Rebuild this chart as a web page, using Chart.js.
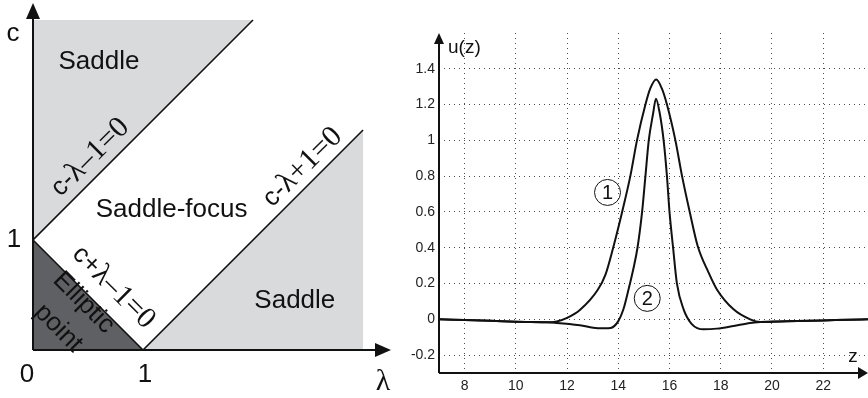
<!DOCTYPE html>
<html>
<head>
<meta charset="utf-8">
<script src="https://cdn.jsdelivr.net/npm/chart.js@4.4.1/dist/chart.umd.min.js"></script>
<style>
  body { margin: 0; background: #fff; }
  #left { position: absolute; left: 0; top: 0; }
  #right { position: absolute; left: 400px; top: 0; }
</style>
</head>
<body>
<canvas id="left" width="400" height="398"></canvas>
<canvas id="right" width="468" height="398"></canvas>
<script>
const SANS = 'Liberation Sans, Arial, sans-serif';
const SERIF = 'Liberation Serif, Times New Roman, serif';

// left panel: regions in the (lambda, c) plane
const upperSaddleL = [0, 0, 2, 0];
const upperSaddleC = [1, 3, 3, 1];
const lowerSaddleL = [1, 3, 3, 1];
const lowerSaddleC = [0, 0, 2, 0];
const ellipticL = [0, 0, 1, 0];
const ellipticC = [0, 1, 0, 0];
const line1L = [0, 2], line1C = [1, 3];   // c-λ-1=0
const line2L = [0, 1], line2C = [1, 0];   // c+λ-1=0
const line3L = [1, 3], line3C = [0, 2];   // c-λ+1=0

// right panel: u(z)
const z1 = [7, 8, 9, 10, 10.6, 11.2, 11.6, 12, 12.5, 13.2, 13.5, 13.8, 14.15, 14.47, 14.73, 15.06, 15.25, 15.48,
  15.7, 15.9, 16.23, 16.49, 16.79, 17.1, 17.53, 17.85, 18.5, 19.15, 19.55, 20.3, 21, 22, 23, 23.75];
const u1 = [0, -0.004, -0.008, -0.013, -0.015, -0.017, -0.012, 0.008, 0.052, 0.165, 0.25, 0.4, 0.6, 0.8, 1.0, 1.2, 1.29, 1.34,
  1.29, 1.2, 1.0, 0.8, 0.6, 0.41, 0.26, 0.167, 0.056, 0.0, -0.015, -0.012, -0.009, -0.006, -0.002, 0];
const z2 = [7, 8, 9, 10, 10.6, 11.2, 11.6, 12.5, 13.2, 13.7, 14.0, 14.2, 14.4, 14.6, 14.75, 14.93, 15.06, 15.19, 15.36, 15.47,
  15.62, 15.77, 15.9, 16.0, 16.14, 16.29, 16.55, 16.88, 17.33, 17.85, 18.5, 19.15, 19.55, 20.3, 21, 22, 23, 23.75];
const u2 = [0, -0.004, -0.008, -0.013, -0.015, -0.017, -0.02, -0.033, -0.05, -0.048, -0.01, 0.056, 0.167, 0.29, 0.4, 0.6, 0.8, 1.0, 1.15, 1.233,
  1.15, 1.0, 0.8, 0.6, 0.4, 0.2, 0.056, -0.028, -0.056, -0.052, -0.037, -0.02, -0.015, -0.012, -0.009, -0.006, -0.002, 0];
const zTicks = [8, 10, 12, 14, 16, 18, 20, 22];
const uTicks = [-0.2, 0, 0.2, 0.4, 0.6, 0.8, 1, 1.2, 1.4];
const curveTags = ['1', '2'];
const tagZ = [13.58, 15.13];
const tagU = [0.709, 0.117];

const pts = (xs, ys) => xs.map((x, i) => ({ x: x, y: ys[i] }));

function drawRich(ctx, segs, x, y, angle) {
  ctx.save();
  ctx.translate(x, y);
  ctx.rotate(angle);
  let total = 0;
  segs.forEach(s => { ctx.font = s[1]; total += ctx.measureText(s[0]).width; });
  let cx = -total / 2;
  ctx.textAlign = 'left';
  ctx.textBaseline = 'middle';
  ctx.fillStyle = '#111';
  segs.forEach(s => {
    ctx.font = s[1];
    ctx.fillText(s[0], cx, 0);
    cx += ctx.measureText(s[0]).width;
  });
  ctx.restore();
}

function arrowHead(ctx, x, y, dir, len, half) {
  ctx.beginPath();
  if (dir === 'up') {
    ctx.moveTo(x, y); ctx.lineTo(x - half, y + len); ctx.lineTo(x + half, y + len);
  } else {
    ctx.moveTo(x, y); ctx.lineTo(x - len, y - half); ctx.lineTo(x - len, y + half);
  }
  ctx.closePath();
  ctx.fill();
}

const leftDecor = {
  id: 'leftDecor',
  afterDraw(chart) {
    const ctx = chart.ctx;
    const sx = chart.scales.x, sy = chart.scales.y;
    const X = v => sx.getPixelForValue(v), Y = v => sy.getPixelForValue(v);
    const x0 = X(0), y0 = Y(0);
    ctx.save();
    ctx.strokeStyle = '#111';
    ctx.fillStyle = '#111';
    ctx.lineWidth = 2;
    ctx.beginPath();
    ctx.moveTo(x0, y0); ctx.lineTo(x0, 16);
    ctx.moveTo(x0, y0); ctx.lineTo(378, y0);
    ctx.stroke();
    arrowHead(ctx, x0, 3, 'up', 16, 7);
    arrowHead(ctx, 391, y0, 'right', 16, 7);

    const S26 = '26px ' + SANS, E = '30px ' + SERIF;
    ctx.textAlign = 'center';
    ctx.textBaseline = 'middle';
    ctx.font = S26;
    ctx.fillText('Saddle', X(0.6), Y(2.62));
    ctx.fillText('Saddle-focus', X(1.26), Y(1.27));
    ctx.fillText('Saddle', X(2.38), Y(0.45));
    ctx.fillText('c', 13, 34);
    ctx.fillText('1', 14, Y(1));
    ctx.fillText('0', 27, 375);
    ctx.fillText('1', X(1) + 2, 375);
    ctx.font = '30px ' + SERIF;
    ctx.fillText('λ', 383, 382);

    const up = -Math.PI / 4, down = Math.PI / 4;
    drawRich(ctx, [['c-', S26], ['λ', E], ['–1=0', E]], X(0.52), Y(1.75), up);
    drawRich(ctx, [['c-', S26], ['λ', E], ['+1=0', E]], X(2.45), Y(1.66), up);
    drawRich(ctx, [['c+', S26], ['λ', E], ['–1=0', E]], X(0.73), Y(0.57), down);
    drawRich(ctx, [['Elliptic', S26]], X(0.46), Y(0.43), down);
    drawRich(ctx, [['point', S26]], X(0.23), Y(0.2), down);
    ctx.restore();
  }
};

new Chart(document.getElementById('left'), {
  type: 'scatter',
  data: {
    datasets: [
      { data: pts(line1L, line1C), showLine: true, borderColor: '#111', borderWidth: 1.6, pointRadius: 0 },
      { data: pts(line2L, line2C), showLine: true, borderColor: '#111', borderWidth: 1.6, pointRadius: 0 },
      { data: pts(line3L, line3C), showLine: true, borderColor: '#111', borderWidth: 1.6, pointRadius: 0 },
      { data: pts(upperSaddleL, upperSaddleC), showLine: true, fill: 'shape', backgroundColor: '#d9dadc', borderWidth: 0, pointRadius: 0 },
      { data: pts(lowerSaddleL, lowerSaddleC), showLine: true, fill: 'shape', backgroundColor: '#d9dadc', borderWidth: 0, pointRadius: 0 },
      { data: pts(ellipticL, ellipticC), showLine: true, fill: 'shape', backgroundColor: '#5f6064', borderWidth: 0, pointRadius: 0 }
    ]
  },
  options: {
    responsive: false,
    animation: false,
    layout: { padding: { left: 33, right: 10, top: 5, bottom: 48 } },
    plugins: { legend: { display: false }, tooltip: { enabled: false } },
    scales: {
      x: { type: 'linear', min: 0, max: 3.245, display: false },
      y: { type: 'linear', min: 0, max: 3.136, display: false }
    }
  },
  plugins: [leftDecor]
});

const rightDecor = {
  id: 'rightDecor',
  afterDraw(chart) {
    const ctx = chart.ctx;
    const a = chart.chartArea;
    const sx = chart.scales.x, sy = chart.scales.y;
    ctx.save();
    ctx.strokeStyle = '#111';
    ctx.fillStyle = '#111';
    ctx.lineWidth = 2;
    ctx.beginPath();
    ctx.moveTo(a.left, a.bottom); ctx.lineTo(a.left, a.top + 8);
    ctx.moveTo(a.left, a.bottom); ctx.lineTo(a.right - 8, a.bottom);
    ctx.stroke();
    arrowHead(ctx, a.left, a.top, 'up', 11, 5);
    arrowHead(ctx, a.right, a.bottom, 'right', 10, 6);

    ctx.textBaseline = 'middle';
    ctx.textAlign = 'left';
    ctx.font = '19px ' + SANS;
    ctx.fillText('u(z)', a.left + 9, 48);
    ctx.textAlign = 'center';
    ctx.fillText('z', 453, 357);

    ctx.lineWidth = 1;
    ctx.font = '20px ' + SANS;
    curveTags.forEach((t, i) => {
      const x = sx.getPixelForValue(tagZ[i]), y = sy.getPixelForValue(tagU[i]);
      ctx.beginPath();
      ctx.arc(x, y, 13, 0, Math.PI * 2);
      ctx.stroke();
      ctx.fillText(t, x, y + 1);
    });
    ctx.restore();
  }
};

const gridStyle = { color: 'rgba(0,0,0,0.7)', lineWidth: 1, drawTicks: false };
new Chart(document.getElementById('right'), {
  type: 'line',
  data: {
    datasets: [
      { data: pts(z1, u1), borderColor: '#111', borderWidth: 2, pointRadius: 0, fill: false, cubicInterpolationMode: 'monotone' },
      { data: pts(z2, u2), borderColor: '#111', borderWidth: 2, pointRadius: 0, fill: false, cubicInterpolationMode: 'monotone' }
    ]
  },
  options: {
    responsive: false,
    animation: false,
    layout: { padding: { left: 0, right: 0, top: 33, bottom: 0 } },
    plugins: { legend: { display: false }, tooltip: { enabled: false } },
    scales: {
      x: {
        type: 'linear', min: 7, max: 23.75,
        afterFit: s => { s.height = 25; },
        afterBuildTicks: s => { s.ticks = zTicks.map(v => ({ value: v })); },
        grid: gridStyle,
        border: { display: false, dash: [1, 4] },
        ticks: { font: { size: 14, family: SANS }, color: '#222', padding: 5, autoSkip: false, maxRotation: 0 }
      },
      y: {
        type: 'linear', min: -0.3, max: 1.6,
        afterFit: s => { s.width = 39; },
        afterBuildTicks: s => { s.ticks = uTicks.map(v => ({ value: v })); },
        grid: gridStyle,
        border: { display: false, dash: [1, 4] },
        ticks: {
          font: { size: 14, family: SANS }, color: '#222', padding: 4, autoSkip: false,
          callback: v => String(+v.toFixed(1))
        }
      }
    }
  },
  plugins: [rightDecor]
});
</script>
</body>
</html>
